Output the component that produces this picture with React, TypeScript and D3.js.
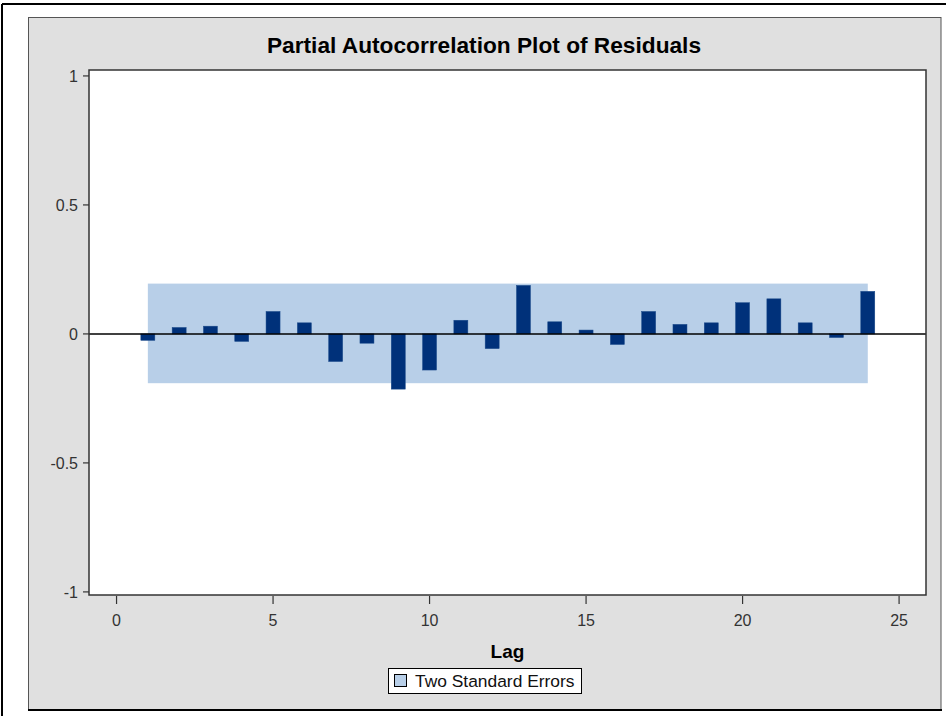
import React from 'react';
import * as d3 from 'd3';

// partial autocorrelation of residuals, lags 1..24
const lags = [1, 2, 3, 4, 5, 6, 7, 8, 9, 10, 11, 12, 13, 14, 15, 16, 17, 18, 19, 20, 21, 22, 23, 24];
const pacf = [
  -0.025, 0.025, 0.030, -0.029, 0.087, 0.043, -0.107, -0.036, -0.214, -0.140, 0.053, -0.057,
  0.188, 0.047, 0.015, -0.041, 0.087, 0.037, 0.043, 0.121, 0.136, 0.043, -0.014, 0.165,
];
const stdErrBand = [-0.191, 0.195];
const xTicks = [0, 5, 10, 15, 20, 25];
const yTicks = [1, 0.5, 0, -0.5, -1];

const W = 952;
const H = 716;
const plot = { left: 89, right: 926, top: 70, bottom: 595 };
const font = "'Liberation Sans', Arial, sans-serif";

const App: React.FC = () => {
  const x = d3.scaleLinear().domain([-0.88, 25.86]).range([plot.left, plot.right]);
  const y = d3.scaleLinear().domain([-1.012, 1.023]).range([plot.bottom, plot.top]);
  const barW = 14;
  const fmt = (v: number) => (v === 0 ? '0' : String(v));

  return (
    <svg width={W} height={H} style={{ position: 'absolute', left: 0, top: 0, display: 'block' }}>
      <rect x={0} y={0} width={W} height={H} fill="#ffffff" />
      {/* outer frame */}
      <line x1={2} x2={946} y1={4} y2={4} stroke="#000" strokeWidth={2} />
      <line x1={2} x2={2} y1={4} y2={H} stroke="#000" strokeWidth={2} />
      {/* gray panel */}
      <rect x={28.5} y={17.5} width={912.5} height={692} fill="#e0e0e0" stroke="#555" strokeWidth={1} />
      <line x1={28} x2={942} y1={710} y2={710} stroke="#000" strokeWidth={2} />

      <text x={484} y={53} textAnchor="middle" fontFamily={font} fontWeight="bold" fontSize={22.7} fill="#000">
        Partial Autocorrelation Plot of Residuals
      </text>

      {/* plot area */}
      <rect x={plot.left} y={plot.top} width={plot.right - plot.left} height={plot.bottom - plot.top} fill="#fff" />

      {/* two standard errors band */}
      <rect
        x={x(lags[0])}
        y={y(stdErrBand[1])}
        width={x(lags[lags.length - 1]) - x(lags[0])}
        height={y(stdErrBand[0]) - y(stdErrBand[1])}
        fill="#b8cfe8"
      />

      {/* bars */}
      {lags.map((l, i) => (
        <rect
          key={l}
          x={x(l) - barW / 2}
          y={Math.min(y(0), y(pacf[i]))}
          width={barW}
          height={Math.abs(y(pacf[i]) - y(0))}
          fill="#00317a"
          stroke="#1a4a8a"
          strokeWidth={0.5}
        />
      ))}

      <line x1={plot.left} x2={plot.right} y1={y(0)} y2={y(0)} stroke="#000" strokeWidth={1.5} />

      {/* frame */}
      <rect
        x={plot.left}
        y={plot.top}
        width={plot.right - plot.left}
        height={plot.bottom - plot.top}
        fill="none"
        stroke="#333"
        strokeWidth={1.5}
      />

      {/* y axis */}
      {yTicks.map((t) => (
        <g key={t}>
          <line x1={plot.left - 6} x2={plot.left} y1={y(t)} y2={y(t)} stroke="#333" strokeWidth={1.2} />
          <text x={plot.left - 11} y={y(t) + 6} textAnchor="end" fontFamily={font} fontSize={16} fill="#333">
            {fmt(t)}
          </text>
        </g>
      ))}

      {/* x axis */}
      {xTicks.map((t) => (
        <g key={t}>
          <line x1={x(t)} x2={x(t)} y1={plot.bottom + 1} y2={plot.bottom + 9} stroke="#333" strokeWidth={1.2} />
          <text x={x(t)} y={626} textAnchor="middle" fontFamily={font} fontSize={16} fill="#333">
            {t}
          </text>
        </g>
      ))}

      <text x={(plot.left + plot.right) / 2} y={658} textAnchor="middle" fontFamily={font} fontWeight="bold" fontSize={19} fill="#000">
        Lag
      </text>

      {/* legend */}
      <rect x={388.5} y={668.5} width={193} height={25} fill="#fff" stroke="#000" strokeWidth={1} />
      <rect x={394.5} y={674.5} width={12} height={12} fill="#b8cfe8" stroke="#000" strokeWidth={1} />
      <text x={415} y={687} fontFamily={font} fontSize={17.4} fill="#111">
        Two Standard Errors
      </text>
    </svg>
  );
};

export default App;
